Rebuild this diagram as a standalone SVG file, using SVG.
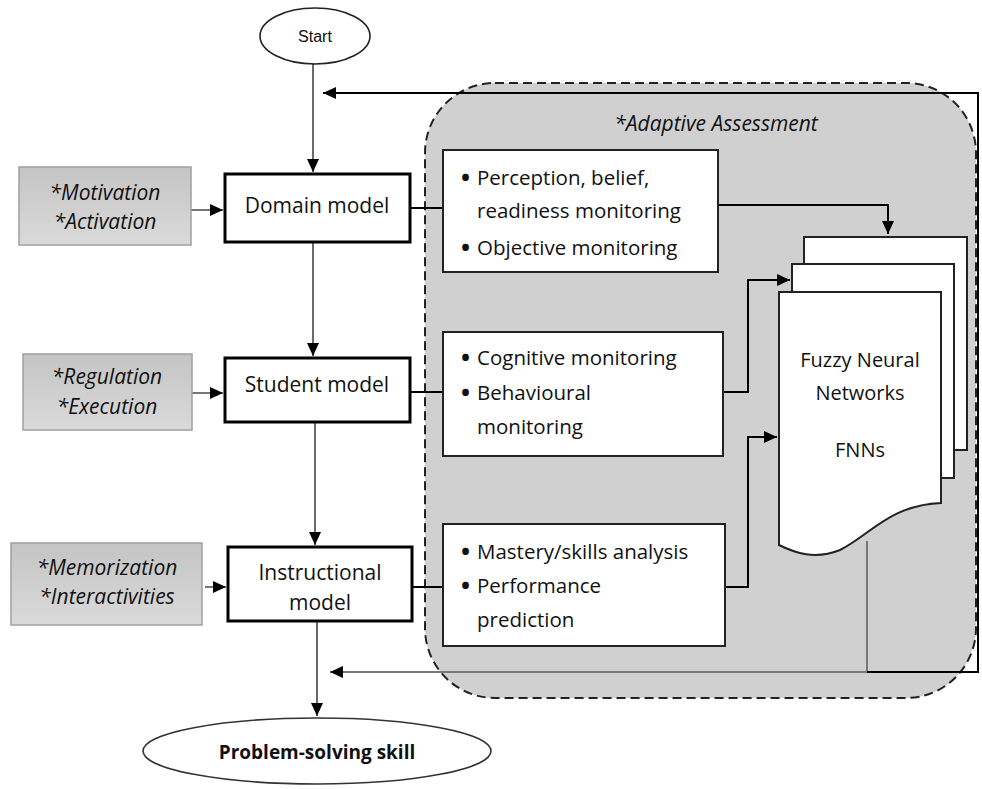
<svg xmlns="http://www.w3.org/2000/svg" width="982" height="789" viewBox="0 0 982 789">
<defs>
  <linearGradient id="gg" x1="0" y1="0" x2="0" y2="1">
    <stop offset="0" stop-color="#c4c4c4"/>
    <stop offset="1" stop-color="#dadada"/>
  </linearGradient>
  <marker id="ah" markerUnits="userSpaceOnUse" markerWidth="14" markerHeight="12" refX="13" refY="6" orient="auto">
    <path d="M0,0 L13,6 L0,12 Z" fill="#000"/>
  </marker>
</defs>
<style>
  text { font-family: "Open Sans", "Liberation Sans", sans-serif; fill: #111; }
  .m { font-size: 21px; text-anchor: middle; }
  .it { font-size: 21px; font-style: italic; text-anchor: middle; }
  .d { font-size: 20.5px; }
  .b { font-size: 24px; font-weight: bold; }
  .model { fill: #fff; stroke: #000; stroke-width: 3; }
  .det { fill: #fff; stroke: #222; stroke-width: 2; }
  .gb { fill: url(#gg); stroke: #a0a0a0; stroke-width: 1.5; }
  .pg { fill: #fff; stroke: #222; stroke-width: 2; }
  .c { fill: none; stroke: #000; stroke-width: 2; }
  .cg { fill: none; stroke: #777; stroke-width: 2; }
  .cd { fill: none; stroke: #444; stroke-width: 1.6; }
</style>

<g id="adaptive-assessment">
  <rect x="425" y="83" width="551" height="615" rx="70" ry="70" fill="#d0d0d0" stroke="#222" stroke-width="2" stroke-dasharray="9,5"/>
  <text class="it" x="716" y="131">*Adaptive Assessment</text>
</g>

<g id="connectors">
  <path class="cd" d="M313,64 V172" marker-end="url(#ah)"/>
  <path class="cd" d="M313,242 V356" marker-end="url(#ah)"/>
  <path class="cd" d="M315,422 V545" marker-end="url(#ah)"/>
  <path class="cd" d="M317,621 V716" marker-end="url(#ah)"/>
  <path class="cg" d="M191,210 H223" marker-end="url(#ah)"/>
  <path class="cg" d="M192,393 H223" marker-end="url(#ah)"/>
  <path class="cg" d="M205,587 H226" marker-end="url(#ah)"/>
  <path class="c" d="M410,208 H443"/>
  <path class="c" d="M410,392 H443"/>
  <path class="c" d="M412,587 H443"/>
  <path class="c" d="M718,205 H888 V234" marker-end="url(#ah)"/>
  <path class="c" d="M723,392 H748 V280 H790" marker-end="url(#ah)"/>
  <path class="c" d="M725,587 H748 V437 H777" marker-end="url(#ah)"/>
  <path class="cg" d="M867,541 V672 H330" marker-end="url(#ah)"/>
  <path class="c" d="M867,672 H978 V93 H323" marker-end="url(#ah)"/>
</g>

<g id="start">
  <ellipse cx="315" cy="36" rx="55" ry="28" fill="#fff" stroke="#222" stroke-width="1.6"/>
  <text x="315" y="42" style="font-family:'Liberation Sans',Arial,sans-serif;font-size:16px;text-anchor:middle">Start</text>
</g>

<g id="motivation">
  <rect class="gb" x="19" y="167" width="172" height="78"/>
  <text class="it" x="105" y="200">*Motivation</text>
  <text class="it" x="105" y="229">*Activation</text>
</g>
<g id="regulation">
  <rect class="gb" x="23" y="354" width="169" height="76"/>
  <text class="it" x="107" y="384">*Regulation</text>
  <text class="it" x="107" y="414">*Execution</text>
</g>
<g id="memorization">
  <rect class="gb" x="11" y="543" width="191" height="82"/>
  <text class="it" x="107" y="575">*Memorization</text>
  <text class="it" x="107" y="604">*Interactivities</text>
</g>

<g id="domain-model">
  <rect class="model" x="225" y="174" width="185" height="68"/>
  <text class="m" x="317" y="213">Domain model</text>
</g>
<g id="student-model">
  <rect class="model" x="225" y="358" width="185" height="64"/>
  <text class="m" x="317" y="392">Student model</text>
</g>
<g id="instructional-model">
  <rect class="model" x="228" y="547" width="184" height="74"/>
  <text class="m" x="320" y="580">Instructional</text>
  <text class="m" x="320" y="610">model</text>
</g>

<g id="perception-box">
  <rect class="det" x="443" y="150" width="275" height="122"/>
  <text class="b" x="461" y="186">•</text>
  <text class="d" x="477" y="185">Perception, belief,</text>
  <text class="d" x="477" y="218">readiness monitoring</text>
  <text class="b" x="461" y="256">•</text>
  <text class="d" x="477" y="255">Objective monitoring</text>
</g>
<g id="cognitive-box">
  <rect class="det" x="443" y="332" width="280" height="124"/>
  <text class="b" x="461" y="366">•</text>
  <text class="d" x="477" y="365">Cognitive monitoring</text>
  <text class="b" x="461" y="401">•</text>
  <text class="d" x="477" y="400">Behavioural</text>
  <text class="d" x="477" y="434">monitoring</text>
</g>
<g id="mastery-box">
  <rect class="det" x="443" y="524" width="282" height="122"/>
  <text class="b" x="461" y="560">•</text>
  <text class="d" x="477" y="559">Mastery/skills analysis</text>
  <text class="b" x="461" y="594">•</text>
  <text class="d" x="477" y="593">Performance</text>
  <text class="d" x="477" y="627">prediction</text>
</g>

<g id="fnn">
  <rect class="pg" x="804" y="237" width="163" height="213"/>
  <rect class="pg" x="792" y="264" width="162" height="214"/>
  <path class="pg" d="M779,292 H941 V503 C890,505 870,535 840,550 C815,560 795,553 779,545 Z"/>
  <text class="m" x="860" y="367" style="font-size:20px">Fuzzy Neural</text>
  <text class="m" x="860" y="400" style="font-size:20px">Networks</text>
  <text class="m" x="860" y="457" style="font-size:20px">FNNs</text>
</g>

<g id="problem-solving">
  <ellipse cx="317" cy="751" rx="174" ry="33" fill="#fff" stroke="#333" stroke-width="1.6"/>
  <text x="317" y="759" style="font-size:19px;font-weight:bold;text-anchor:middle">Problem-solving skill</text>
</g>
</svg>
